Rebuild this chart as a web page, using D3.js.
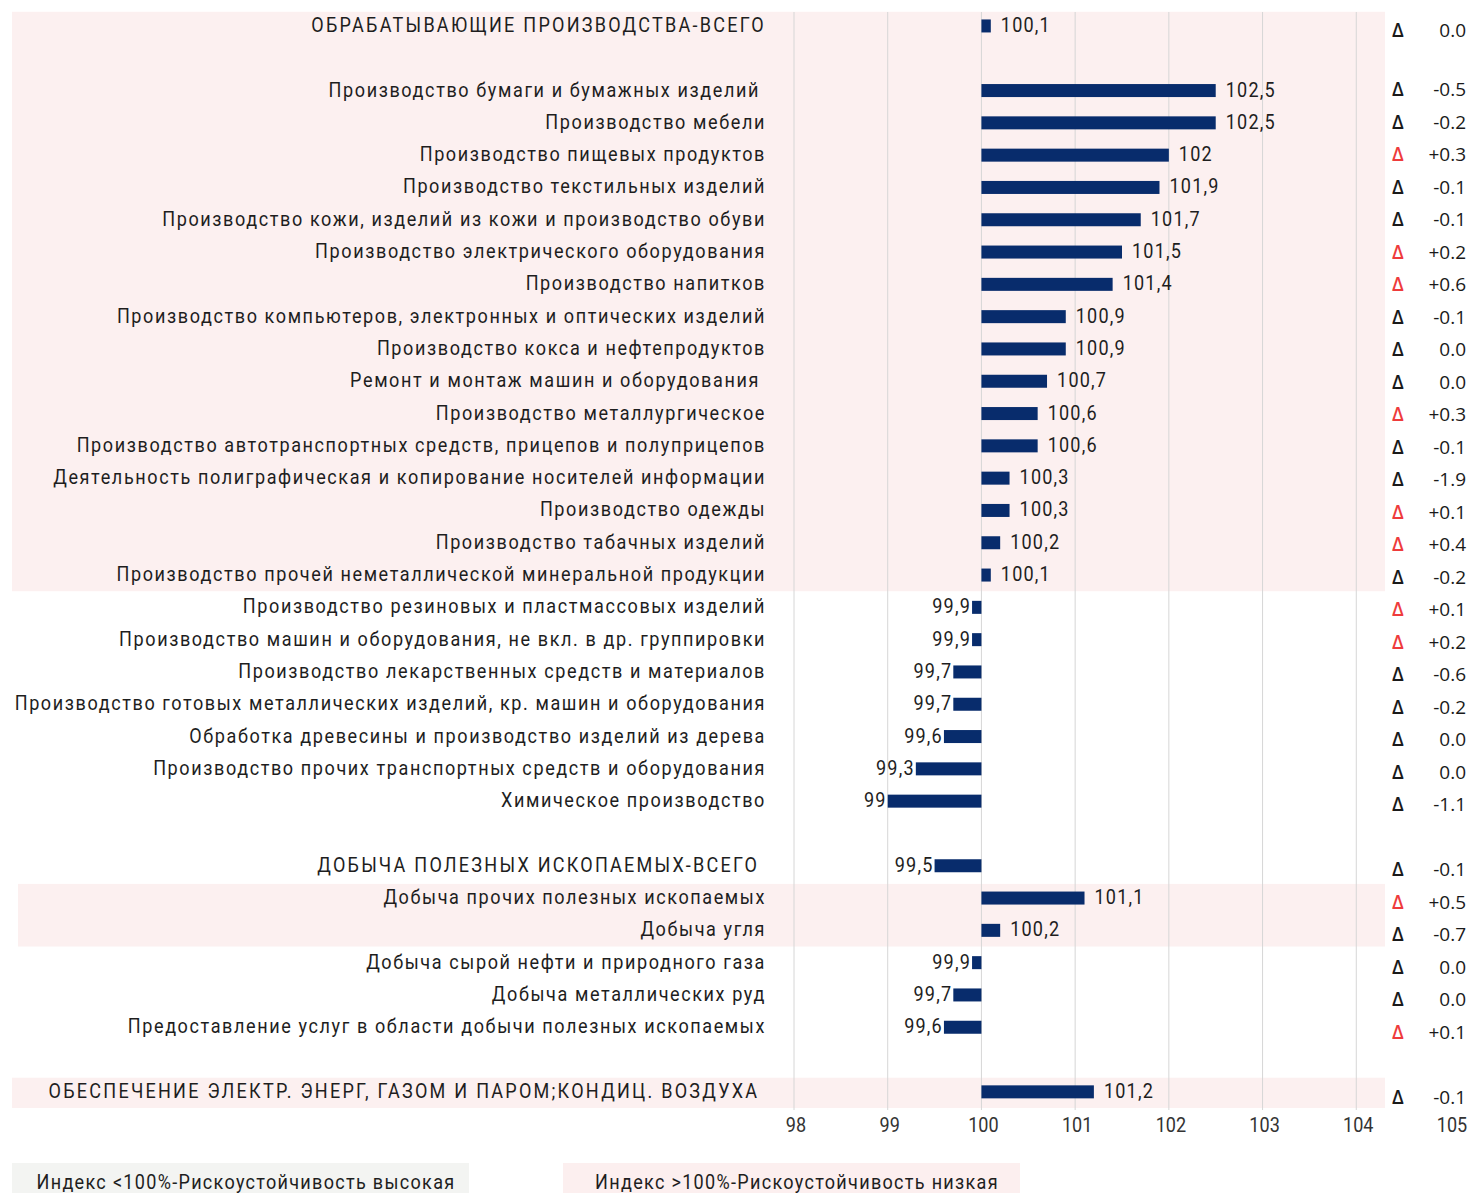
<!DOCTYPE html>
<html><head><meta charset="utf-8">
<script src="https://cdn.jsdelivr.net/npm/d3@7"></script>
<style>
html,body{margin:0;padding:0;background:#fff;}
svg{display:block;}
.lbl{font-family:Roboto,"Noto Sans",sans-serif;font-size:21px;fill:#1e1e1e;letter-spacing:1.85px;white-space:pre;}
.lbl.up{letter-spacing:2.6px;}
.lbl.lg{letter-spacing:1.5px;}
.val{font-family:Roboto,"Noto Sans",sans-serif;font-size:21px;fill:#1e1e1e;letter-spacing:1.4px;}
.tick{font-family:Roboto,"Noto Sans",sans-serif;font-size:21px;fill:#333;}
.dl{font-family:"Open Sans","Noto Sans",sans-serif;font-size:19px;fill:#1a1a1a;}
</style></head>
<body>
<svg id="c" width="1474" height="1193"></svg>
<script>
const categories = [
 "ОБРАБАТЫВАЮЩИЕ ПРОИЗВОДСТВА-ВСЕГО", "",
 "Производство бумаги и бумажных изделий ", "Производство мебели", "Производство пищевых продуктов",
 "Производство текстильных изделий", "Производство кожи, изделий из кожи и производство обуви",
 "Производство электрического оборудования", "Производство напитков",
 "Производство компьютеров, электронных и оптических изделий", "Производство кокса и нефтепродуктов",
 "Ремонт и монтаж машин и оборудования ", "Производство металлургическое",
 "Производство автотранспортных средств, прицепов и полуприцепов",
 "Деятельность полиграфическая и копирование носителей информации", "Производство одежды",
 "Производство табачных изделий", "Производство прочей неметаллической минеральной продукции",
 "Производство резиновых и пластмассовых изделий", "Производство машин и оборудования, не вкл. в др. группировки",
 "Производство лекарственных средств и материалов", "Производство готовых металлических изделий, кр. машин и оборудования",
 "Обработка древесины и производство изделий из дерева", "Производство прочих транспортных средств и оборудования",
 "Химическое производство", "",
 "ДОБЫЧА ПОЛЕЗНЫХ ИСКОПАЕМЫХ-ВСЕГО ", "Добыча прочих полезных ископаемых", "Добыча угля",
 "Добыча сырой нефти и природного газа", "Добыча металлических руд",
 "Предоставление услуг в области добычи полезных ископаемых", "",
 "ОБЕСПЕЧЕНИЕ ЭЛЕКТР. ЭНЕРГ, ГАЗОМ И ПАРОМ;КОНДИЦ. ВОЗДУХА "
];
const values = [100.1, null, 102.5, 102.5, 102, 101.9, 101.7, 101.5, 101.4, 100.9, 100.9, 100.7, 100.6, 100.6,
 100.3, 100.3, 100.2, 100.1, 99.9, 99.9, 99.7, 99.7, 99.6, 99.3, 99, null, 99.5, 101.1, 100.2, 99.9, 99.7, 99.6, null, 101.2];
const deltas = [0.0, null, -0.5, -0.2, 0.3, -0.1, -0.1, 0.2, 0.6, -0.1, 0.0, 0.0, 0.3, -0.1, -1.9, 0.1, 0.4, -0.2,
 0.1, 0.2, -0.6, -0.2, 0.0, 0.0, -1.1, null, -0.1, 0.5, -0.7, 0.0, 0.0, 0.1, null, -0.1];
const tickValues = [98, 99, 100, 101, 102, 103, 104, 105];
// highlighted (index > 100) band ranges [first, last, left edge]
const pinkBands = [[0, 17, 12], [27, 28, 18], [33, 33, 12]];
const legendItems = [
 {text: "Индекс <100%-Рискоустойчивость высокая", fill: "#f3f4f2"},
 {text: "Индекс >100%-Рискоустойчивость низкая", fill: "#fcefef"}
];

const svg = d3.select("#c");
const x = d3.scaleLinear().domain([98, 105]).range([794, 1450]);
const y = d3.scaleBand().domain(d3.range(categories.length)).range([9.8, 1108]).paddingInner(0);
// delta column rows are laid out in their own (slightly taller) table
const yd = d3.scaleLinear().domain([0, 2, 33]).range([30, 89, 1096.5]);
const bh = 13;
const sx = 0.86; // horizontal condensation of the text

function cond(sel, px, py) {
  sel.attr("transform", d => `translate(${px(d)},${py(d)}) scale(${sx},1)`);
}

// pink backgrounds
svg.selectAll("rect.bg").data(pinkBands).join("rect")
  .attr("x", d => d[2]).attr("width", d => 1385 - d[2])
  .attr("y", d => y(d[0]) + 2).attr("height", d => y(d[1]) + y.bandwidth() - y(d[0]) - 2)
  .attr("fill", "#fcf0f0");

// grid
svg.selectAll("line.g").data(tickValues.slice(0, 7)).join("line")
  .attr("x1", d => x(d)).attr("x2", d => x(d)).attr("y1", 12).attr("y2", 1110)
  .attr("stroke", "#d6d6d6").attr("stroke-width", 1);

const idx = d3.range(categories.length);
const isUpper = s => /[А-ЯЁ]{4}/.test(s) && s === s.toUpperCase();

// labels
svg.selectAll("text.lbl").data(idx.filter(i => categories[i])).join("text")
  .attr("class", i => "lbl" + (isUpper(categories[i]) ? " up" : ""))
  .attr("text-anchor", "end").attr("dominant-baseline", "central")
  .call(cond, () => 766, i => y(i) + y.bandwidth() / 2 - 1)
  .text(i => categories[i]);

// bars
const withVal = idx.filter(i => values[i] != null);
svg.selectAll("rect.bar").data(withVal).join("rect")
  .attr("x", i => x(Math.min(100, values[i]))).attr("width", i => Math.abs(x(values[i]) - x(100)))
  .attr("y", i => y(i) + y.bandwidth() / 2 - bh / 2).attr("height", bh)
  .attr("fill", "#082c6c");

// value labels
svg.selectAll("text.val").data(withVal).join("text")
  .attr("class", "val")
  .attr("text-anchor", i => values[i] >= 100 ? "start" : "end")
  .attr("dominant-baseline", "central")
  .call(cond, i => values[i] >= 100 ? x(values[i]) + 10 : x(values[i]) - 1, i => y(i) + y.bandwidth() / 2 - 1)
  .text(i => String(values[i]).replace(".", ","));

// deltas
const withD = idx.filter(i => deltas[i] != null);
const fmt = v => (v > 0 ? "+" : "") + v.toFixed(1);
svg.selectAll("text.dtri").data(withD).join("text")
  .attr("class", "dl").attr("x", 1398).attr("text-anchor", "middle")
  .attr("y", i => yd(i)).attr("dominant-baseline", "central")
  .style("fill", i => deltas[i] > 0 ? "#ee3b3b" : "#1a1a1a")
  .style("font-weight", 600)
  .text("Δ");
svg.selectAll("text.dval").data(withD).join("text")
  .attr("class", "dl").attr("x", 1466).attr("text-anchor", "end")
  .attr("y", i => yd(i)).attr("dominant-baseline", "central")
  .text(i => fmt(deltas[i]));

// axis ticks
svg.selectAll("text.tick").data(tickValues).join("text")
  .attr("class", "tick")
  .attr("text-anchor", "middle").attr("dominant-baseline", "central")
  .call(cond, d => x(d) + 2, () => 1125)
  .text(d => d);

// legend
const lg = svg.selectAll("g.lg").data(legendItems).join("g")
  .attr("transform", (d, i) => `translate(${i === 0 ? 12 : 563},1163)`);
lg.append("rect").attr("width", 457).attr("height", 32).attr("fill", d => d.fill);
lg.append("text").attr("class", "lbl lg")
  .attr("text-anchor", "middle").attr("dominant-baseline", "central")
  .attr("transform", `translate(234,19) scale(${sx},1)`)
  .text(d => d.text);
</script>
</body></html>
